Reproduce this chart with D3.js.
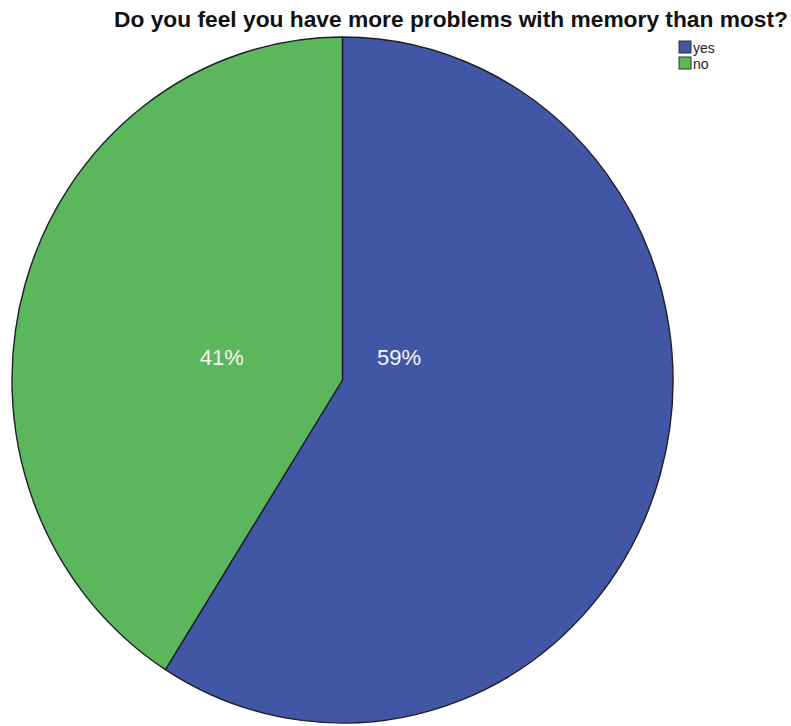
<!DOCTYPE html>
<html>
<head>
<meta charset="utf-8">
<script src="https://cdn.jsdelivr.net/npm/d3@7/dist/d3.min.js"></script>
<style>
  html, body { margin: 0; padding: 0; background: #ffffff; }
  svg { display: block; }
  text { font-family: "Liberation Sans", Arial, Helvetica, sans-serif; }
</style>
</head>
<body>
<svg id="chart" width="791" height="726"></svg>
<script>
// Survey answers and their shares (percent)
const categories = ["yes", "no"];
const percents = [59, 41];
const colors = ["#4256a6", "#5cb65b"];
const title = "Do you feel you have more problems with memory than most?";

const svg = d3.select("#chart");
const W = 791, H = 726;

// Pie geometry: drawn as a unit circle then stretched into a slight ellipse
const cx = 342.5, cy = 380;
const rx = 330.5, ry = 343;
const R = 100;

const pie = d3.pie().sort(null).value(d => d.value)
  .startAngle(0).endAngle(2 * Math.PI);
const arc = d3.arc().innerRadius(0).outerRadius(R);

const data = categories.map((c, i) => ({ name: c, value: percents[i], color: colors[i] }));
const arcs = pie(data);

const pieG = svg.append("g")
  .attr("transform", `translate(${cx},${cy}) scale(${rx / R},${ry / R})`);

pieG.selectAll("path")
  .data(arcs)
  .join("path")
  .attr("d", arc)
  .attr("fill", d => d.data.color)
  .attr("stroke", "#1c1f2a")
  .attr("stroke-width", 1.4)
  .attr("stroke-linejoin", "round")
  .attr("vector-effect", "non-scaling-stroke");

// Percentage labels, placed near the centre on each side of the top divider
const labelOffsets = { yes: [0.171, -0.067], no: [-0.365, -0.067] };
svg.selectAll("text.pct")
  .data(arcs)
  .join("text")
  .attr("class", "pct")
  .attr("x", d => cx + labelOffsets[d.data.name][0] * rx)
  .attr("y", d => cy + labelOffsets[d.data.name][1] * ry)
  .attr("text-anchor", "middle")
  .attr("dominant-baseline", "central")
  .attr("font-size", 22)
  .attr("fill", "#f4f7f2")
  .text(d => d3.format(".0f")(d.data.value) + "%");

// Title
svg.append("text")
  .attr("x", 114)
  .attr("y", 26.5)
  .attr("font-size", 22.5)
  .attr("font-weight", "bold")
  .attr("fill", "#111111")
  .attr("textLength", 674)
  .attr("lengthAdjust", "spacingAndGlyphs")
  .text(title);

// Legend
const legend = svg.append("g").attr("transform", "translate(679,41)");
const item = legend.selectAll("g")
  .data(data)
  .join("g")
  .attr("transform", (d, i) => `translate(0,${i * 16})`);
item.append("rect")
  .attr("width", 12)
  .attr("height", 12)
  .attr("fill", d => d.color)
  .attr("stroke", "#333333")
  .attr("stroke-width", 1);
item.append("text")
  .attr("x", 14)
  .attr("y", 6.5)
  .attr("dominant-baseline", "central")
  .attr("font-size", 14)
  .attr("fill", "#222222")
  .text(d => d.name);
</script>
</body>
</html>
